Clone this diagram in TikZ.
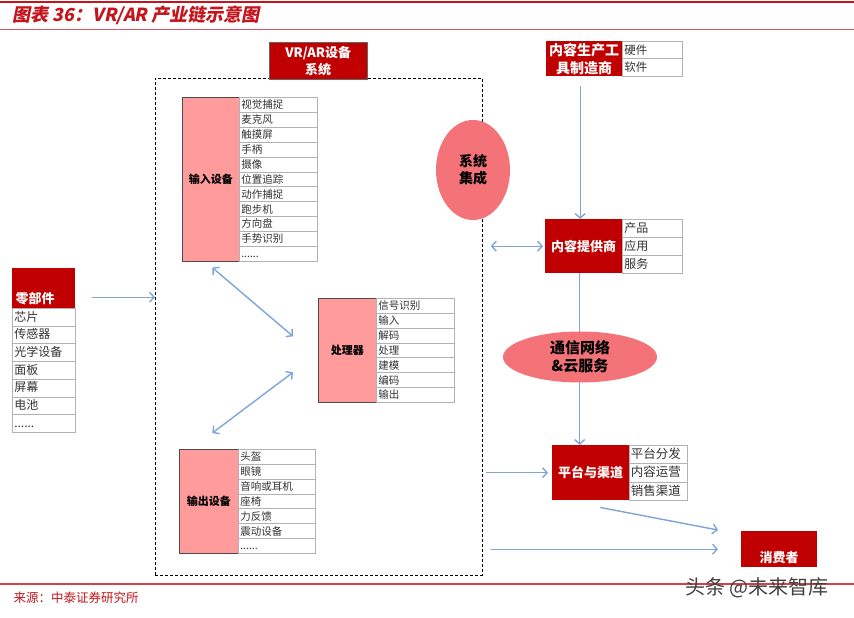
\documentclass[tikz,border=0pt]{standalone}
\usepackage{fontspec}
\setmainfont{Noto Sans CJK SC}
\newfontfamily\titlefont[FakeSlant=0.2]{Noto Sans CJK SC}
\usepackage{tikz}
\usetikzlibrary{arrows.meta, positioning, calc, shapes.geometric}

\definecolor{chainred}{HTML}{C00000}
\definecolor{titlered}{HTML}{C4151C}
\definecolor{boxpink}{HTML}{FF9B9B}
\definecolor{bubblered}{HTML}{F47378}
\definecolor{flowblue}{HTML}{7FA5D8}
\newcommand{\etcdots}{......}

\begin{document}
\begin{tikzpicture}[
    x=1pt, y=-1pt,
    sysbox/.style={draw, line width=0.8pt, dash pattern=on 3pt off 2pt, anchor=north west, inner sep=0pt},
    redbox/.style={fill=chainred, text=white, font=\bfseries\fontsize{13}{17}\selectfont, align=center, anchor=north west, inner sep=1pt},
    headtext/.style={text=white, font=\bfseries\fontsize{13}{15}\selectfont},
    pinkbox/.style={draw=black!70, line width=0.6pt, fill=boxpink, font=\bfseries\fontsize{11}{13}\selectfont, anchor=north west, inner sep=1pt},
    cell/.style={draw=gray!60, line width=0.6pt, fill=white, anchor=north west, inner xsep=2pt, inner ysep=0pt, text width=#1, align=left, text height=9pt, text depth=1pt, text=black!80, font=\fontsize{10.5}{12}\selectfont},
    bubble/.style={ellipse, fill=bubblered, inner sep=0pt, align=center, font=\bfseries\fontsize{14}{17}\selectfont},
    arrow/.style={draw=flowblue, line width=1.4pt, -{Straight Barb[length=4.5pt,width=10pt]}},
    biarrow/.style={draw=flowblue, line width=1.4pt, {Straight Barb[length=4.5pt,width=10pt]}-{Straight Barb[length=4.5pt,width=10pt]}}
]
\useasboundingbox (0,0) rectangle (854,618);
\fill[white] (0,0) rectangle (854,618);

% HEADER AND FOOTER
\draw[titlered, line width=2.5pt] (0,2) -- (854,2);
\draw[titlered!70, line width=0.8pt] (0,29.5) -- (854,29.5);
\node[anchor=west, text=titlered, font=\titlefont\bfseries\fontsize{18}{20}\selectfont] (title) at (9,15) {图表 36：VR/AR 产业链示意图};
\draw[titlered!80, line width=1.2pt] (0,584) -- (854,584);
\node[anchor=west, text=titlered, font=\fontsize{12.5}{14}\selectfont] (source) at (10,598) {来源：中泰证券研究所};

% VR/AR DEVICE SYSTEM
\node[sysbox, minimum width=327pt, minimum height=497pt] (sys) at (155,78) {};
\node[redbox, draw=black!60, minimum width=98pt, minimum height=37pt] (vrar) at (269,42) {VR/AR设备\\系统};

% Input devices
\node[pinkbox, minimum width=57pt, minimum height=164pt] (inbox) at (182,97) {输入设备};
\foreach \lbl [count=\i] in {视觉捕捉,麦克风,触摸屏,手柄,摄像,位置追踪,动作捕捉,跑步机,方向盘,手势识别,\etcdots}
  \node[cell=74pt, minimum height=14.9pt] (in\i) at (239,{97+(\i-1)*14.9}) {\lbl};

% Processor
\node[pinkbox, minimum width=58pt, minimum height=104pt] (proc) at (318,298) {处理器};
\foreach \lbl [count=\i] in {信号识别,输入,解码,处理,建模,编码,输出}
  \node[cell=74pt, minimum height=14.86pt] (pr\i) at (376,{298+(\i-1)*14.86}) {\lbl};

% Output devices
\node[pinkbox, minimum width=59pt, minimum height=104pt] (outbox) at (179,449) {输出设备};
\foreach \lbl [count=\i] in {头盔,眼镜,音响或耳机,座椅,力反馈,震动设备,\etcdots}
  \node[cell=73pt, minimum height=14.86pt] (out\i) at (238,{449+(\i-1)*14.86}) {\lbl};

% PARTS
\node[redbox, minimum width=63pt, minimum height=40pt, label={[headtext, anchor=south west]south west:零部件}] (parts) at (12,268) {};
\foreach \lbl [count=\i] in {芯片,传感器,光学设备,面板,屏幕,电池,\etcdots}
  \node[cell=59pt, minimum height=17.7pt, font=\fontsize{12}{14}\selectfont] (pa\i) at (12,{308+(\i-1)*17.7}) {\lbl};

% CONTENT CHAIN
% Content tool makers
\node[redbox, minimum width=76pt, minimum height=35pt, font=\bfseries\fontsize{14}{18}\selectfont] (prod) at (546,41) {内容生产工\\具制造商};
\foreach \lbl [count=\i] in {硬件,软件}
  \node[cell=56pt, minimum height=17.5pt, font=\fontsize{11.5}{13}\selectfont] (pd\i) at (622,{41+(\i-1)*17.5}) {\lbl};

% Content providers
\node[redbox, minimum width=77pt, minimum height=54pt] (prov) at (545,219) {内容提供商};
\foreach \lbl [count=\i] in {产品,应用,服务}
  \node[cell=56pt, minimum height=18pt, font=\fontsize{12}{14}\selectfont] (pv\i) at (622,{219+(\i-1)*18}) {\lbl};

% Platforms and channels
\node[redbox, minimum width=77pt, minimum height=55pt] (plat) at (552,445) {平台与渠道};
\foreach \lbl [count=\i] in {平台分发,内容运营,销售渠道}
  \node[cell=55pt, minimum height=18.33pt, inner xsep=1.5pt, font=\fontsize{12.5}{14}\selectfont] (pl\i) at (629,{445+(\i-1)*18.33}) {\lbl};

% Consumers
\node[redbox, minimum width=76pt, minimum height=36pt, label={[headtext, anchor=south]south:消费者}] (cons) at (741,531) {};

% ARROWS
\draw[arrow, shorten <=17pt] ([yshift=-9pt]parts.east) -- ([yshift=-9pt]parts.east -| sys.west);
\draw[biarrow] ($(inbox.south)+(1.5,6)$) -- ($(proc.west)+(-25,-14)$);
\draw[biarrow] ($(proc.west)+(-25,22)$) -- ($(outbox.north)+(3.5,-16)$);
\draw[arrow, shorten <=10pt] ([xshift=-4pt]prod.south) -- ([xshift=-4pt]prod.south |- prov.north);
\draw[biarrow, shorten <=8pt, shorten >=2pt] (sys.east |- prov.west) -- (prov.west);
\draw[arrow] ([xshift=-4pt]prov.south) -- ([xshift=-4pt]prov.south |- plat.north);
\draw[arrow, shorten <=3pt, shorten >=4pt] (sys.east |- plat.west) -- (plat.west);
\coordinate (platout) at ($(plat.south west)+(48,7)$);
\coordinate (consin) at ($(cons.north west)+(-23,-1)$);
\draw[arrow] (platout) -- (consin);
\draw[arrow, shorten <=8pt, shorten >=23pt] (sys.east |- cons.west) -- (cons.west);

% BUBBLES
\node[bubble, minimum width=74pt, minimum height=100pt] (sysint) at (473,170) {系统\\集成};
\node[bubble, minimum width=154pt, minimum height=51pt, font=\bfseries\fontsize{15}{18}\selectfont] (net) at (580,357) {通信网络\\\&云服务};

% watermark
\node[text=black!75, font=\fontsize{20}{22}\selectfont] (mark) at (757,588) {头条 @未来智库};

\end{tikzpicture}
\end{document}
